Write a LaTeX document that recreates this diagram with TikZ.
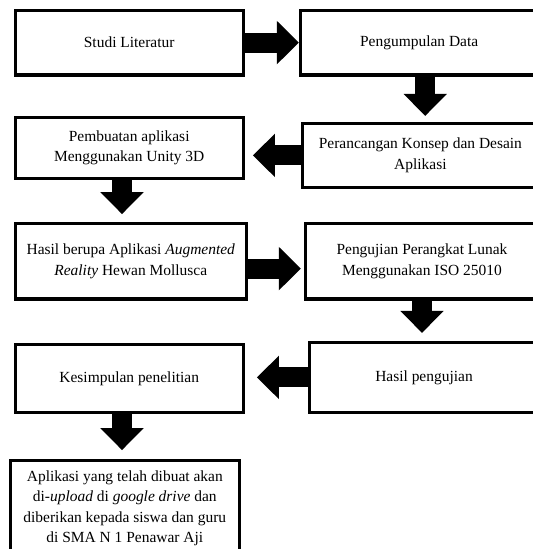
\documentclass[tikz,border=0pt]{standalone}
\usepackage{fontspec}
\setmainfont{Liberation Serif}
\usetikzlibrary{arrows.meta}

\begin{document}
\begin{tikzpicture}[scale=1,
        box/.style={draw, line width=2.4pt, align=center, inner sep=2pt,
            font=\fontsize{11}{14.5}\selectfont},
        blockarrow/.style={line width=0.5cm, -{Triangle[width=1.05cm, length=0.55cm]}}]

        \useasboundingbox (0, 0) rectangle (13.325, 13.725);
        \clip (0, 0) rectangle (13.325, 13.725);

        \node[box, minimum width=5.7cm, minimum height=1.62cm] (b1) at (3.23, 12.66) {Studi Literatur};
        \node[box, minimum width=5.93cm, minimum height=1.62cm] (b2) at (10.48, 12.66) {Pengumpulan Data};
        \node[box, minimum width=5.7cm, minimum height=1.53cm] (b3) at (3.23, 10.03) {Pembuatan aplikasi\\Menggunakan Unity 3D};
        \node[box, minimum width=5.88cm, minimum height=1.59cm] (b4) at (10.51, 9.84) {Perancangan Konsep dan Desain\\Aplikasi};
        \node[box, minimum width=5.78cm, minimum height=1.88cm] (b5) at (3.27, 7.19) {Hasil berupa Aplikasi \textit{Augmented}\\\textit{Reality} Hewan Mollusca};
        \node[box, minimum width=5.81cm, minimum height=1.88cm] (b6) at (10.55, 7.19) {Pengujian Perangkat Lunak\\Menggunakan ISO 25010};
        \node[box, minimum width=5.7cm, minimum height=1.69cm] (b7) at (3.23, 4.26) {Kesimpulan penelitian};
        \node[box, minimum width=5.71cm, minimum height=1.74cm] (b8) at (10.6, 4.29) {Hasil pengujian};
        \node[box, minimum width=5.73cm, minimum height=2.38cm] (b9) at (3.12, 1.02) {Aplikasi yang telah dibuat akan\\di-\textit{upload} di \textit{google drive} dan\\diberikan kepada siswa dan guru\\di SMA N 1 Penawar Aji};

        \draw[blockarrow] (b1) -- (b2);
        \draw[blockarrow, shorten >=0.15cm] ([xshift=0.15cm]b2.south) -- ([xshift=0.15cm]b2.south |- b4.north);
        \draw[blockarrow, shorten >=0.2cm] (b4.west) -- (b4.west -| b3.east);
        \draw[blockarrow, shorten >=0.2cm] ([xshift=-0.18cm]b3.south) -- ([xshift=-0.18cm]b3.south |- b5.north);
        \draw[blockarrow, shorten >=0.08cm] ([yshift=-0.18cm]b5.east) -- ([yshift=-0.18cm]b5.east -| b6.west);
        \draw[blockarrow, shorten >=0.2cm] (b6.south) -- (b6.south |- b8.north);
        \draw[blockarrow, shorten >=0.3cm] (b8.west) -- (b8.west -| b7.east);
        \draw[blockarrow, shorten >=0.22cm] ([xshift=-0.18cm]b7.south) -- ([xshift=-0.18cm]b7.south |- b9.north);
    \end{tikzpicture}
\end{document}
